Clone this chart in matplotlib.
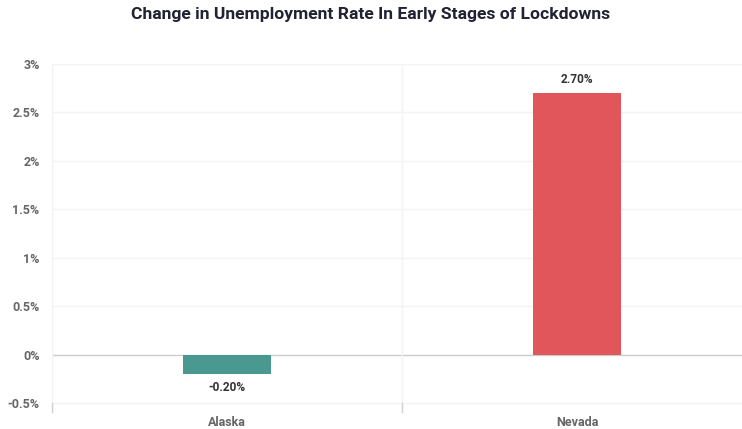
import matplotlib.pyplot as plt
from matplotlib.ticker import FuncFormatter

plt.rcParams['font.family'] = ['Roboto', 'DejaVu Sans']

# data
states = ['Alaska', 'Nevada']
change = [-0.2, 2.7]
colors = ['#4a9990', '#e0565b']
yticks = [-0.5, 0, 0.5, 1, 1.5, 2, 2.5, 3]

fig = plt.figure(figsize=(7.42, 4.29), dpi=100)
# the last category runs a little past the right edge, like the original
ax = fig.add_axes([52 / 742, 1 - 412 / 429, 700 / 742, 348 / 429])

x = range(len(states))
ax.bar(x, change, width=0.25, color=colors, zorder=3)

ax.set_xlim(-0.5, len(states) - 0.5)
ax.set_ylim(-0.593, 3)

# grid
for t in yticks:
    ax.axhline(t, color='#cccccc' if t == 0 else '#f3f3f3', lw=1, zorder=1)
for b in [-0.5, 0.5]:
    ax.axvline(b, color='#f3f3f3', lw=1, zorder=1)
    ax.plot([b, b], [-0.593, -0.5], color='#d0d0d0', lw=1, zorder=2, clip_on=False)

for s in ax.spines.values():
    s.set_visible(False)

ax.set_yticks(yticks)
ax.yaxis.set_major_formatter(FuncFormatter(lambda v, p: f'{v:g}%'))
ax.set_xticks(list(x))
ax.set_xticklabels(states)
ax.tick_params(length=0, colors='#666666', labelsize=9)
ax.tick_params(axis='y', pad=9)
ax.tick_params(axis='x', pad=3)
for lab in ax.get_xticklabels() + ax.get_yticklabels():
    lab.set_fontweight('bold')

# value labels
for i, v in enumerate(change):
    if v >= 0:
        ax.annotate(f'{v:.2f}%', (i, v), xytext=(0, 5), textcoords='offset points',
                    ha='center', va='bottom', fontsize=8.6, fontweight='bold', color='#333333')
    else:
        ax.annotate(f'{v:.2f}%', (i, v), xytext=(0, -5), textcoords='offset points',
                    ha='center', va='top', fontsize=8.6, fontweight='bold', color='#333333')

fig.text(0.5, 1 - 15 / 429, 'Change in Unemployment Rate In Early Stages of Lockdowns',
         ha='center', va='center', fontsize=12.6, fontweight='bold', color='#222233')

fig.savefig('out.png', dpi=100)
